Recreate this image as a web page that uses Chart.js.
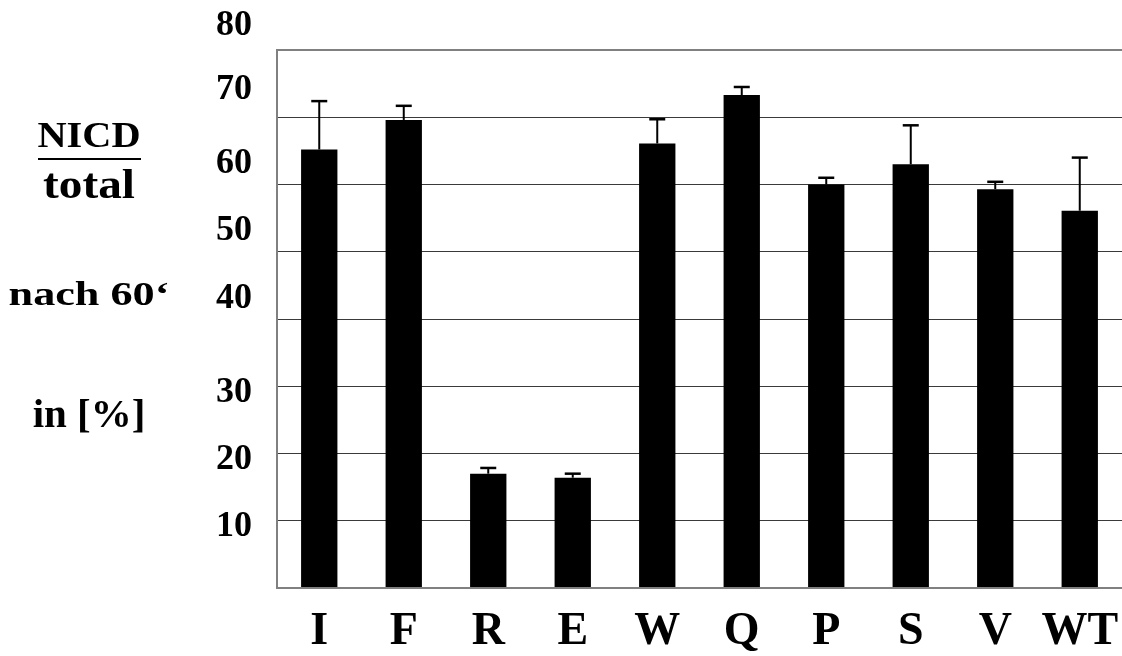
<!DOCTYPE html>
<html>
<head>
<meta charset="utf-8">
<script src="https://cdn.jsdelivr.net/npm/chart.js@4/dist/chart.umd.min.js"></script>
<style>
  html, body { margin: 0; padding: 0; background: #fff; }
  #wrap { position: relative; width: 1122px; height: 656px; overflow: hidden; }
  canvas { position: absolute; left: 0; top: 0; }
  .t { position: absolute; left: 0; width: 178px; text-align: center;
       font-family: "Liberation Serif", "Times New Roman", serif; font-weight: bold;
       color: #000; white-space: nowrap; transform-origin: 89px 0; }
  .rule { position: absolute; left: 38px; top: 158px; width: 103px; height: 2px; background: #000; }
</style>
</head>
<body>
<div id="wrap">
  <canvas id="c" width="1122" height="656"></canvas>
  <div class="t" style="top:117px;font-size:36px;line-height:36px;transform:scaleX(1.12)">NICD</div>
  <div class="rule"></div>
  <div class="t" style="top:162px;font-size:43px;line-height:43px;transform:scaleX(1.1)">total</div>
  <div class="t" style="top:277px;font-size:34px;line-height:34px;transform:scaleX(1.3)">nach 60‘</div>
  <div class="t" style="top:393px;font-size:41px;line-height:41px">in [%]</div>
</div>
<script>
const categories = ['I', 'F', 'R', 'E', 'W', 'Q', 'P', 'S', 'V', 'WT'];
const values     = [65.2, 69.6, 17.0, 16.4, 66.1, 73.3, 60.0, 63.0, 59.3, 56.1];
const errors     = [7.2, 2.1, 0.85, 0.6, 3.6, 1.2, 1.0, 5.8, 1.1, 7.9];
const yTickValues = [10, 20, 30, 40, 50, 60, 70, 80];

// label nudges (style only): per-tick line height used to lift upper labels
const liftLineHeight = {40: 52, 50: 54, 60: 54, 70: 68, 80: 60};

const serif = '"Liberation Serif", "Times New Roman", serif';

const errorBars = {
  id: 'errorBars',
  afterDatasetsDraw(chart) {
    const ctx = chart.ctx;
    const meta = chart.getDatasetMeta(0);
    const y = chart.scales.y;
    ctx.save();
    ctx.strokeStyle = '#000';
    meta.data.forEach((bar, i) => {
      const yTop = y.getPixelForValue(values[i] + errors[i]);
      const yBase = y.getPixelForValue(values[i]);
      ctx.lineWidth = 2;
      ctx.beginPath();
      ctx.moveTo(bar.x, yBase);
      ctx.lineTo(bar.x, yTop);
      ctx.stroke();
      ctx.lineWidth = 2.5;
      ctx.beginPath();
      ctx.moveTo(bar.x - 8, yTop);
      ctx.lineTo(bar.x + 8, yTop);
      ctx.stroke();
    });
    ctx.restore();
  }
};

new Chart(document.getElementById('c'), {
  type: 'bar',
  data: {
    labels: categories,
    datasets: [{
      data: values,
      backgroundColor: '#000',
      borderWidth: 0,
      barPercentage: 0.43,
      categoryPercentage: 1.0
    }]
  },
  options: {
    responsive: false,
    animation: false,
    devicePixelRatio: 1,
    layout: { padding: { top: 50, right: 0, left: 0, bottom: 0 } },
    plugins: { legend: { display: false }, tooltip: { enabled: false } },
    scales: {
      x: {
        offset: true,
        grid: { display: false, drawTicks: false },
        border: { display: true, color: '#808080', width: 2 },
        ticks: {
          color: '#000',
          padding: 17,
          maxRotation: 0,
          autoSkip: false,
          font: { family: serif, weight: 'bold', size: 46 }
        },
        afterFit(s) { s.height = 68; s.paddingLeft = 0; s.paddingRight = 0; }
      },
      y: {
        min: 0,
        max: 80,
        afterBuildTicks(s) { s.ticks = [0].concat(yTickValues).map(v => ({ value: v })); },
        grid: {
          drawTicks: false,
          color: c => (c.tick && (c.tick.value === 80 || c.tick.value === 0)) ? '#808080' : '#3a3a3a',
          lineWidth: c => (c.tick && (c.tick.value === 80 || c.tick.value === 0)) ? 2 : 1
        },
        border: { display: true, color: '#808080', width: 2 },
        ticks: {
          color: '#000',
          padding: 25,
          labelOffset: 6,
          autoSkip: false,
          callback: v => v === 0 ? '' : (liftLineHeight[v] ? [String(v), ''] : String(v)),
          font: c => {
            const v = c.tick ? c.tick.value : 0;
            return { family: serif, weight: 'bold', size: 36,
                     lineHeight: liftLineHeight[v] ? liftLineHeight[v] + 'px' : 1.2 };
          }
        },
        afterFit(s) { s.width = 277; s.paddingTop = 0; s.paddingBottom = 0; }
      }
    }
  },
  plugins: [errorBars]
});
</script>
</body>
</html>
